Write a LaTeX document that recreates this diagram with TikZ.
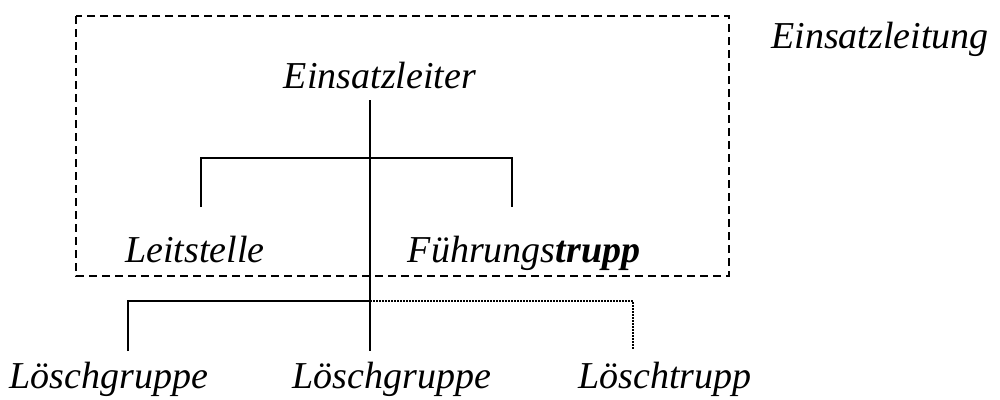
\documentclass[tikz,border=0pt]{standalone}
\usepackage{fontspec}
\setmainfont{Liberation Serif}
\begin{document}
\begin{tikzpicture}[x=1pt,y=-1pt,
  lbl/.style={font=\fontsize{38}{45}\selectfont\itshape, inner sep=0pt, anchor=base},
  conn/.style={line width=2pt},
  dotconn/.style={line width=1.5pt, dash pattern=on 1.5pt off 1.5pt},
  frame/.style={line width=1.8pt, dash pattern=on 8pt off 5pt}]
\useasboundingbox (0,0) rectangle (1000,399);
\draw[frame] (76,16) rectangle (729,276);
\node[lbl] (einsatzleitung) at (880,48) {Einsatzleitung};
\node[lbl] (leiter) at (380,88) {Einsatzleiter};
\node[lbl] (leitstelle) at (195,262) {Leitstelle};
\node[lbl] (fuehrung) at (524,262) {Führungs\textbf{trupp}};
\node[lbl] (lg1) at (109,388) {Löschgruppe};
\node[lbl] (lg2) at (392,388) {Löschgruppe};
\node[lbl] (lt) at (665,388) {Löschtrupp};
\coordinate (top) at (370,100);
\coordinate (bottom) at (370,351);
\coordinate (hl) at (201,158);
\coordinate (hr) at (512,158);
\coordinate (dl) at (201,207);
\coordinate (dr) at (512,207);
\coordinate (bl) at (128,301);
\coordinate (blb) at (128,351);
\coordinate (bm) at (370,301);
\coordinate (br) at (633,301);
\coordinate (brb) at (633,349);
\draw[conn] (top) -- (bottom);
\draw[conn] (dl) -- (hl) -- (hr) -- (dr);
\draw[conn] (blb) -- (bl) -- (bm);
\draw[dotconn] (bm) -- (br) -- (brb);
\end{tikzpicture}
\end{document}
